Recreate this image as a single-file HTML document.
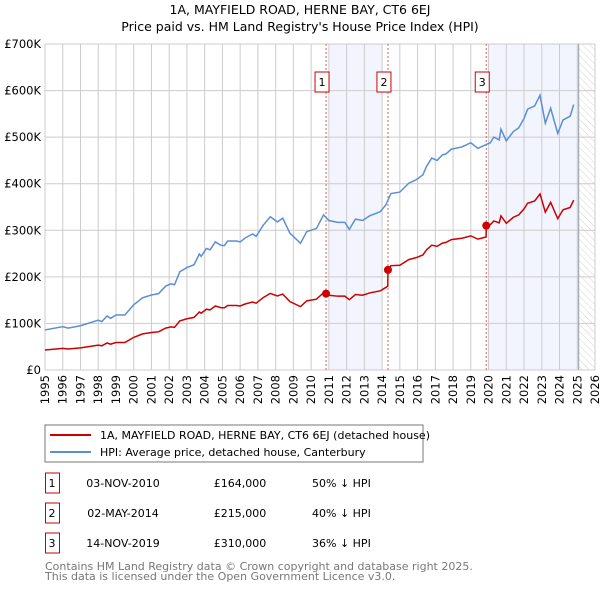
<!DOCTYPE html>
<html><head><meta charset="utf-8"><style>
body{margin:0;background:#fff;font-family:"Liberation Sans","DejaVu Sans",sans-serif;}
svg{display:block}
</style></head><body>
<svg id="c" width="600" height="590" xmlns="http://www.w3.org/2000/svg" font-family="DejaVu Sans, Liberation Sans, sans-serif">
<defs><pattern id="hatch" width="5" height="5" patternUnits="userSpaceOnUse" patternTransform="rotate(-45)"><line x1="0" y1="0" x2="0" y2="5" stroke="#d4d4d4" stroke-width="1"/></pattern></defs>
<text x="300" y="14" text-anchor="middle" font-size="12.5">1A, MAYFIELD ROAD, HERNE BAY, CT6 6EJ</text>
<text x="300" y="31" text-anchor="middle" font-size="12.5">Price paid vs. HM Land Registry's House Price Index (HPI)</text>
<g id="plot"></g>
<g>
<rect x="45" y="425" width="378" height="37" fill="#fff" stroke="#777"/>
<line x1="50" y1="435" x2="91" y2="435" stroke="#cc0000" stroke-width="2"/>
<text x="100" y="439" font-size="11">1A, MAYFIELD ROAD, HERNE BAY, CT6 6EJ (detached house)</text>
<line x1="50" y1="452" x2="91" y2="452" stroke="#5b8fd4" stroke-width="2"/>
<text x="100" y="456" font-size="11">HPI: Average price, detached house, Canterbury</text>
</g>
<g id="tbl" font-size="11"></g>
<text x="45" y="570" font-size="11" fill="#777">Contains HM Land Registry data © Crown copyright and database right 2025.</text>
<text x="45" y="580" font-size="11" fill="#777">This data is licensed under the Open Government Licence v3.0.</text>
</svg>
<script>
const hpiDates=[1995.0,1996.0,1996.3,1997.0,1998.0,1998.2,1998.5,1998.7,1999.0,1999.5,2000.0,2000.5,2001.0,2001.4,2001.8,2002.1,2002.3,2002.6,2003.0,2003.4,2003.7,2003.8,2004.1,2004.3,2004.6,2004.9,2005.1,2005.3,2005.8,2006.0,2006.3,2006.7,2006.9,2007.3,2007.7,2008.1,2008.4,2008.8,2009.4,2009.75,2010.3,2010.7,2011.0,2011.5,2011.9,2012.15,2012.5,2012.9,2013.3,2013.9,2014.2,2014.5,2015.0,2015.5,2015.9,2016.3,2016.5,2016.8,2017.1,2017.4,2017.6,2017.9,2018.5,2019.0,2019.4,2019.8,2020.1,2020.3,2020.6,2020.7,2021.0,2021.4,2021.7,2022.0,2022.2,2022.6,2022.9,2023.2,2023.5,2023.9,2024.2,2024.6,2024.8];
const hpiValues=[86,93,90,95,107,104,116,111,118,118,140,155,161,164,180,185,183,211,220,226,249,244,261,258,275,268,267,277,277,275,284,292,287,311,329,318,326,294,272,297,304,333,321,317,317,302,324,321,331,340,354,379,382,401,408,419,437,455,450,462,464,474,479,488,476,483,488,500,494,517,492,512,520,540,560,567,590,530,562,508,537,545,570];
const ppDates=[1995.0,1996.0,1996.3,1997.0,1998.0,1998.2,1998.5,1998.7,1999.0,1999.5,2000.0,2000.5,2001.0,2001.4,2001.8,2002.1,2002.3,2002.6,2003.0,2003.4,2003.7,2003.8,2004.1,2004.3,2004.6,2004.9,2005.1,2005.3,2005.8,2006.0,2006.3,2006.7,2006.9,2007.3,2007.7,2008.1,2008.4,2008.8,2009.4,2009.75,2010.3,2010.7,2010.84,2011.0,2011.5,2011.9,2012.15,2012.5,2012.9,2013.3,2013.9,2014.2,2014.32,2014.33,2014.5,2015.0,2015.5,2015.9,2016.3,2016.5,2016.8,2017.1,2017.4,2017.6,2017.9,2018.5,2019.0,2019.4,2019.8,2019.86,2019.87,2020.1,2020.3,2020.6,2020.7,2021.0,2021.4,2021.7,2022.0,2022.2,2022.6,2022.9,2023.2,2023.5,2023.9,2024.2,2024.6,2024.8];
const ppValues=[43,46.5,45,47.5,53.5,52,58,55.5,59,59,70,77.5,80.5,82,90,92.5,91.5,105.5,110,113,124.5,122,130.5,129,137.5,134,133.5,138.5,138.5,137.5,142,146,143.5,155.5,164.5,159,163,147,136,148.5,152,166,164,160.5,158.5,158.5,151,162,160.5,165.5,170,177,180,215,224,225,237,241,247,258,268,265.5,272.5,274,280,283,288,281,285,286,310,312,320,316,331,315,328,333,346,358,363,378,339,360,325,344,349,365];
const saleNums=["1","2","3"];
const saleDates=[2010.84,2014.33,2019.87];
const saleValues=[164,215,310];
const saleDateLabels=["03-NOV-2010","02-MAY-2014","14-NOV-2019"];
const salePriceLabels=["£164,000","£215,000","£310,000"];
const saleHpiLabels=["50% ↓ HPI","40% ↓ HPI","36% ↓ HPI"];
const yTicks=[0,100,200,300,400,500,600,700];
const yTickLabels=["£0","£100K","£200K","£300K","£400K","£500K","£600K","£700K"];
const xTicks=[1995,1996,1997,1998,1999,2000,2001,2002,2003,2004,2005,2006,2007,2008,2009,2010,2011,2012,2013,2014,2015,2016,2017,2018,2019,2020,2021,2022,2023,2024,2025,2026];
const shadeRanges=[[2011.0,2014.0],[2020.0,2025.08]];
const dataEnd=2025.08;

const L=45,R=595,T=44,B=370;
const xs=y=>L+(y-1995)/(2026-1995)*(R-L);
const ys=v=>B-v/700*(B-T);
const NS="http://www.w3.org/2000/svg";
const plot=document.getElementById('plot');
function mk(tag,attrs,parent){const e=document.createElementNS(NS,tag);for(const k in attrs)e.setAttribute(k,attrs[k]);(parent||plot).appendChild(e);return e;}

shadeRanges.forEach(r=>{
  const e=mk('rect',{x:xs(r[0]),y:T,width:xs(r[1])-xs(r[0]),height:B-T,fill:'#f2f5fd'});
  
  
});
const h=mk('rect',{x:xs(dataEnd),y:T,width:R-xs(dataEnd),height:B-T,fill:'url(#hatch)'});



yTicks.forEach((v,i)=>{
  const g=mk('line',{x1:L,x2:R,y1:ys(v),y2:ys(v),stroke:'#ccc','stroke-width':1});
  
  
  const t=mk('text',{x:L-4,y:ys(v)+4,'text-anchor':'end','font-size':11.5});
  t.textContent=yTickLabels[i];
  
  
});
xTicks.forEach(yr=>{
  const g=mk('line',{x1:xs(yr),x2:xs(yr),y1:T,y2:B,stroke:'#ccc','stroke-width':1});
  
  
  const t=mk('text',{x:0,y:0,'text-anchor':'end','font-size':11.5,transform:`translate(${xs(yr)+4},${B+5}) rotate(-90)`});
  t.textContent=yr;
  
  
});
const edge=mk('line',{x1:xs(dataEnd),x2:xs(dataEnd),y1:T,y2:B,stroke:'#999','stroke-width':1});



saleDates.forEach((d,i)=>{
  const l=mk('line',{x1:xs(d),x2:xs(d),y1:T,y2:B,stroke:'#e06060','stroke-width':1,'stroke-dasharray':'2,2'});
  
  
  const bx=mk('rect',{x:xs(d)-11,y:T+28,width:14,height:20,fill:'#fff',stroke:'#cc0000'});
  
  
  const t=mk('text',{x:xs(d)-4,y:T+42,'text-anchor':'middle','font-size':11});
  t.textContent=saleNums[i];
  
  
});

const hp=mk('polyline',{points:hpiDates.map((d,i)=>xs(d)+','+ys(hpiValues[i])).join(' '),fill:'none',stroke:'#5b8fd4','stroke-width':1.5});


const pp=mk('polyline',{points:ppDates.map((d,i)=>xs(d)+','+ys(ppValues[i])).join(' '),fill:'none',stroke:'#cc0000','stroke-width':1.5});


saleDates.forEach((d,i)=>{
  const c=mk('circle',{cx:xs(d),cy:ys(saleValues[i]),r:4,fill:'#cc0000'});
  
  
});

const tbl=document.getElementById('tbl');
saleNums.forEach((n,i)=>{
  const y=483+i*30;
  const b=mk('rect',{x:45.5,y:y-10,width:14,height:20,fill:'#fff',stroke:'#cc0000'},tbl);
  
  
  const cols=[[52,n,'middle'],[123,saleDateLabels[i],'middle'],[240,salePriceLabels[i],'middle'],[312,saleHpiLabels[i],'start']];
  cols.forEach(c=>{
    const t=mk('text',{x:c[0],y:y+4,'text-anchor':c[2]},tbl);
    t.textContent=c[1];
    
    
  });
});
</script>
</body></html>
